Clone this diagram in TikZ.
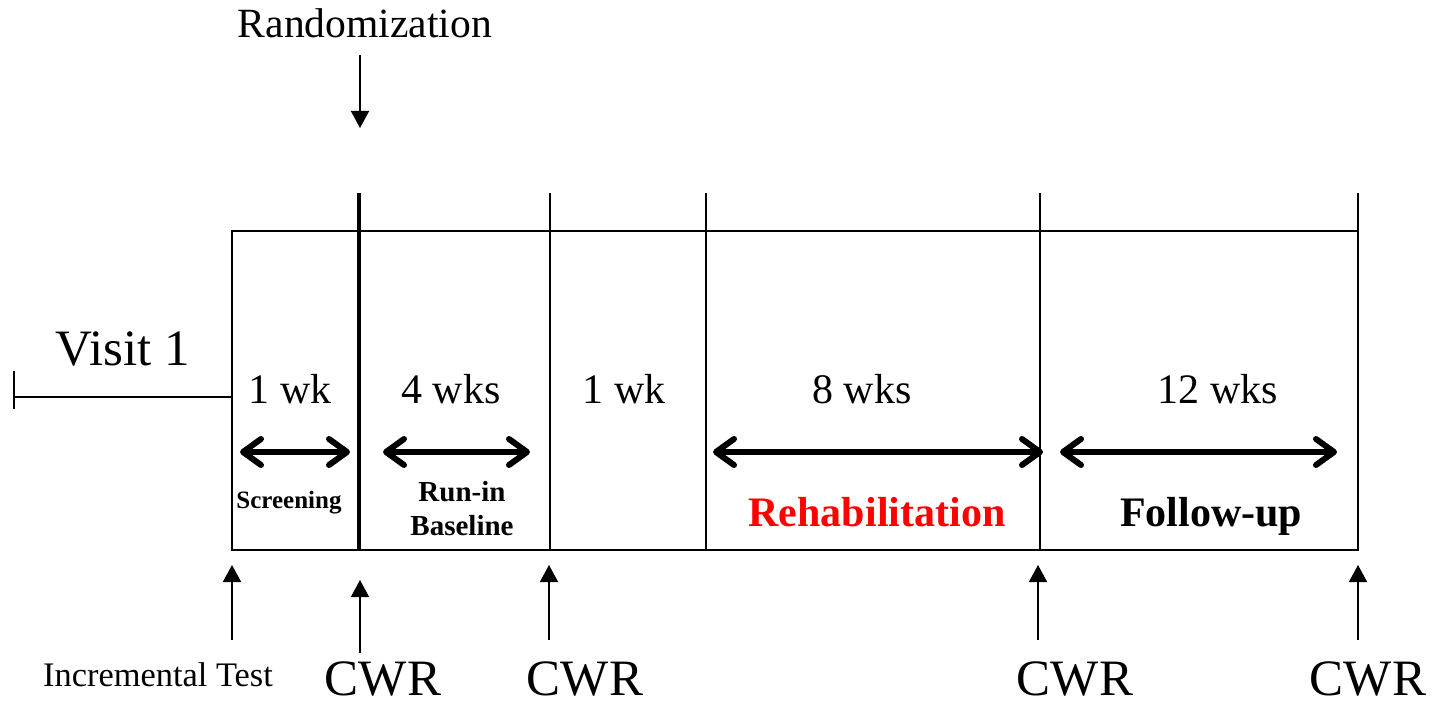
\documentclass[tikz,border=0pt]{standalone}
\usepackage{fontspec}
\setmainfont{Liberation Serif}
\usetikzlibrary{arrows.meta}
\newcommand{\px}{0.5pt}

\begin{document}
\begin{tikzpicture}[x=\px, y=-\px,
    lbl/.style={anchor=base, inner sep=0pt},
    wks/.style={lbl, font=\fontsize{21}{21}\selectfont},
    phase/.style={lbl, font=\bfseries\fontsize{21}{21}\selectfont},
    cwr/.style={lbl, font=\fontsize{25.5}{25.5}\selectfont},
    border/.style={line width=0.75pt},
    span/.style={line width=3pt, line cap=round, {Straight Barb[round, length=9pt, width=13pt]}-{Straight Barb[round, length=9pt, width=13pt]}},
    up/.style={line width=0.75pt, -{Triangle[length=8.5pt, width=9pt]}}]
    \useasboundingbox (0,0) rectangle (1434,701);

    % Box and phase borders
    \coordinate (box-nw) at (232,231);
    \coordinate (box-se) at (1358,550);
    \draw[line width=1pt] (box-nw) rectangle (box-se);
    \foreach \x in {550,706,1040,1358}
        \draw[border] (\x,193) -- (\x,550);
    \draw[line width=2pt] (359,193) -- (359,550);

    % Visit 1
    \node[lbl, font=\fontsize{25.5}{25.5}\selectfont] (visit) at (123,365) {Visit 1};
    \coordinate (visit-start) at (14,397);
    \draw[border] (visit-start) -- (visit-start -| box-nw);
    \draw[border] (14,371) -- (14,409);

    % Randomization
    \node[lbl, font=\fontsize{20.8}{20.8}\selectfont] (random) at (365,38) {Randomization};
    \coordinate (random-tail) at (360,55);
    \coordinate (random-tip) at (360,128);
    \draw[up] (random-tail) -- (random-tip);

    % Durations
    \node[wks] (wk-1) at (290,403) {1 wk};
    \node[wks] (wk-2) at (451,403) {4 wks};
    \node[wks] (wk-3) at (624,403) {1 wk};
    \node[wks] (wk-4) at (862,403) {8 wks};
    \node[wks] (wk-5) at (1218,403) {12 wks};

    % Spans
    \coordinate (span-1-l) at (240,452);  \coordinate (span-1-r) at (350,452);
    \coordinate (span-2-l) at (383,452);  \coordinate (span-2-r) at (530,452);
    \coordinate (span-3-l) at (713,452);  \coordinate (span-3-r) at (1043,452);
    \coordinate (span-4-l) at (1060,452); \coordinate (span-4-r) at (1337,452);
    \draw[span] (span-1-l) -- (span-1-r);
    \draw[span] (span-2-l) -- (span-2-r);
    \draw[span] (span-3-l) -- (span-3-r);
    \draw[span] (span-4-l) -- (span-4-r);

    % Phase names
    \node[lbl, font=\bfseries\fontsize{12.5}{12.5}\selectfont] (screening) at (289,508) {Screening};
    \node[lbl, font=\bfseries\fontsize{14.5}{14.5}\selectfont] (runin) at (462,501) {Run-in};
    \node[lbl, font=\bfseries\fontsize{14.5}{14.5}\selectfont] (baseline) at (462,535) {Baseline};
    \node[phase, text=red] (rehab) at (877,526) {Rehabilitation};
    \node[phase] (followup) at (1211,526) {Follow-up};

    % Measurements
    \node[lbl, font=\fontsize{17.2}{17.2}\selectfont] (incr) at (158,686) {Incremental Test};
    \node[cwr] (cwr-1) at (383,695) {CWR};
    \node[cwr] (cwr-2) at (585,695) {CWR};
    \node[cwr] (cwr-3) at (1075,695) {CWR};
    \node[cwr] (cwr-4) at (1368,695) {CWR};

    \coordinate (incr-tail) at (232,640);  \coordinate (incr-tip) at (232,565);
    \coordinate (cwr-1-tail) at (360,653); \coordinate (cwr-1-tip) at (360,580);
    \coordinate (cwr-2-tail) at (549,640); \coordinate (cwr-2-tip) at (549,565);
    \coordinate (cwr-3-tail) at (1038,640); \coordinate (cwr-3-tip) at (1038,565);
    \coordinate (cwr-4-tail) at (1358,640); \coordinate (cwr-4-tip) at (1358,565);
    \draw[up, line width=1pt] (incr-tail) -- (incr-tip);
    \draw[up] (cwr-1-tail) -- (cwr-1-tip);
    \draw[up] (cwr-2-tail) -- (cwr-2-tip);
    \draw[up] (cwr-3-tail) -- (cwr-3-tip);
    \draw[up] (cwr-4-tail) -- (cwr-4-tip);

\end{tikzpicture}
\end{document}
